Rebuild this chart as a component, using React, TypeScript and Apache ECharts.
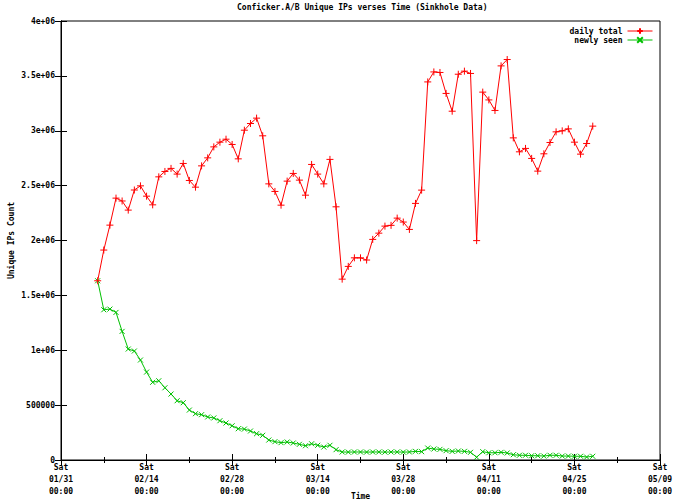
import React, { useEffect, useRef } from "react";
import * as echarts from "echarts";

// Days are counted from Sat 01/31 00:00 (2009); first sample is day 6 (02/06)
const firstDay = 6;
const xTickDays = [0, 14, 28, 42, 56, 70, 84, 98];
const yTicks = [0, 500000, 1000000, 1500000, 2000000, 2500000, 3000000, 3500000, 4000000];

const dailyTotal = [
  1633000, 1913000, 2140000, 2386000, 2360000, 2277000, 2460000, 2498000, 2404000, 2325000,
  2580000, 2629000, 2657000, 2605000, 2702000, 2547000, 2486000, 2680000, 2753000, 2853000,
  2896000, 2923000, 2875000, 2744000, 3005000, 3066000, 3115000, 2954000, 2516000, 2447000,
  2322000, 2541000, 2611000, 2550000, 2413000, 2693000, 2605000, 2516000, 2739000, 2307000,
  1648000, 1764000, 1842000, 1842000, 1822000, 2010000, 2067000, 2131000, 2138000, 2204000,
  2168000, 2101000, 2338000, 2459000, 3445000, 3536000, 3531000, 3340000, 3178000, 3515000,
  3543000, 3522000, 1999000, 3352000, 3281000, 3185000, 3591000, 3649000, 2935000, 2808000,
  2839000, 2748000, 2632000, 2790000, 2893000, 2990000, 2999000, 3017000, 2896000, 2787000,
  2884000, 3042000,
];

const newlySeen = [
  1633000, 1369000, 1375000, 1345000, 1172000, 1011000, 993000, 911000, 801000, 708000,
  722000, 658000, 601000, 540000, 522000, 455000, 422000, 413000, 392000, 383000,
  358000, 337000, 312000, 285000, 282000, 264000, 240000, 225000, 182000, 167000,
  158000, 164000, 155000, 143000, 130000, 148000, 134000, 118000, 134000, 94000,
  73000, 72000, 73000, 73000, 72000, 73000, 73000, 72000, 73000, 73000,
  72000, 73000, 79000, 76000, 109000, 100000, 97000, 85000, 79000, 82000,
  79000, 70000, 25000, 76000, 66000, 66000, 70000, 64000, 48000, 43000,
  43000, 39000, 39000, 36000, 43000, 43000, 36000, 36000, 34000, 34000,
  27000, 34000,
];

const FONT = "DejaVu Sans Mono";
const RED = "#ff0000";
const GREEN = "#00c000";

function dayLabel(d: number): string {
  const t = new Date(Date.UTC(2009, 0, 31) + d * 86400000);
  const mm = String(t.getUTCMonth() + 1).padStart(2, "0");
  const dd = String(t.getUTCDate()).padStart(2, "0");
  return "Sat\n" + mm + "/" + dd + "\n00:00";
}

function yLabel(v: number): string {
  if (v === 0) return "0";
  if (v < 1000000) return String(v);
  return String(v / 1000000) + "e+06";
}

export default function App() {
  const ref = useRef<HTMLDivElement>(null);
  useEffect(() => {
    if (!ref.current) return;
    const chart = echarts.init(ref.current, null, { renderer: "svg" });
    const text = { fontFamily: FONT, fontWeight: "bold" as const, fontSize: 8, color: "#000" };
    const totalPts = dailyTotal.map((v, i) => [firstDay + i, v]);
    const newPts = newlySeen.map((v, i) => [firstDay + i, v]);
    const xMin = xTickDays[0];
    const xMax = xTickDays[xTickDays.length - 1];
    const xInt = xTickDays[1] - xTickDays[0];
    const yMax = yTicks[yTicks.length - 1];
    const yInt = yTicks[1] - yTicks[0];
    const axisLine = { show: true, lineStyle: { color: "#000", width: 1 } };
    chart.setOption({
      animation: false,
      backgroundColor: "#fff",
      title: {
        text: "Conficker.A/B Unique IPs verses Time (Sinkhole Data)",
        left: 237,
        top: 3,
        padding: 0,
        textStyle: { ...text, fontSize: 8 },
      },
      legend: {
        orient: "vertical",
        right: 20,
        top: 27,
        padding: 0,
        align: "right",
        itemWidth: 25,
        itemHeight: 7,
        itemGap: 1,
        lineStyle: { width: 1 },
        textStyle: { ...text, lineHeight: 8 },
        data: ["daily total", "newly seen"],
      },
      grid: {
        left: 61,
        right: 13,
        top: 21,
        bottom: 42,
        outerBoundsMode: "none",
        containLabel: false,
        show: true,
        borderColor: "#000",
        borderWidth: 1,
      },
      xAxis: [
        {
          type: "value",
          min: xMin,
          max: xMax,
          interval: xInt,
          position: "bottom",
          name: "Time",
          nameLocation: "middle",
          nameGap: 32,
          nameMoveOverlap: false,
          nameTextStyle: { ...text },
          axisLine,
          axisTick: { show: true, inside: true, length: 6, lineStyle: { color: "#000" } },
          minorTick: { show: true, splitNumber: 2, length: 3, lineStyle: { color: "#000" } },
          splitLine: { show: false },
          axisLabel: { ...text, margin: 1, lineHeight: 12, formatter: dayLabel },
        },
        {
          type: "value",
          min: xMin,
          max: xMax,
          interval: xInt,
          position: "top",
          axisLine,
          axisTick: { show: true, inside: true, length: 6, lineStyle: { color: "#000" } },
          minorTick: { show: true, splitNumber: 2, length: 3, lineStyle: { color: "#000" } },
          splitLine: { show: false },
          axisLabel: { show: false },
        },
      ],
      yAxis: [
        {
          type: "value",
          min: 0,
          max: yMax,
          interval: yInt,
          position: "left",
          name: "Unique IPs Count",
          nameLocation: "middle",
          nameGap: 46,
          nameRotate: 90,
          nameMoveOverlap: false,
          nameTextStyle: { ...text },
          axisLine,
          axisTick: { show: true, inside: true, length: 6, lineStyle: { color: "#000" } },
          splitLine: { show: false },
          axisLabel: { ...text, margin: 6, formatter: yLabel },
        },
        {
          type: "value",
          min: 0,
          max: yMax,
          interval: yInt,
          position: "right",
          axisLine,
          axisTick: { show: true, inside: true, length: 6, lineStyle: { color: "#000" } },
          splitLine: { show: false },
          axisLabel: { show: false },
        },
      ],
      series: [
        {
          name: "daily total",
          type: "line",
          data: totalPts,
          symbol: "path://M0,3.5L7,3.5M3.5,0L3.5,7",
          symbolSize: 7,
          showSymbol: true,
          lineStyle: { color: RED, width: 1 },
          itemStyle: { color: RED, borderColor: RED, borderWidth: 1 },
          z: 3,
        },
        {
          name: "newly seen",
          type: "line",
          data: newPts,
          symbol: "path://M0,0L6,6M6,0L0,6",
          symbolSize: 5,
          showSymbol: true,
          lineStyle: { color: GREEN, width: 1 },
          itemStyle: { color: GREEN, borderColor: GREEN, borderWidth: 1 },
          z: 2,
        },
      ],
    });
    return () => chart.dispose();
  }, []);
  return <div ref={ref} style={{ width: 673, height: 502, position: "absolute", left: 0, top: 0 }} />;
}
